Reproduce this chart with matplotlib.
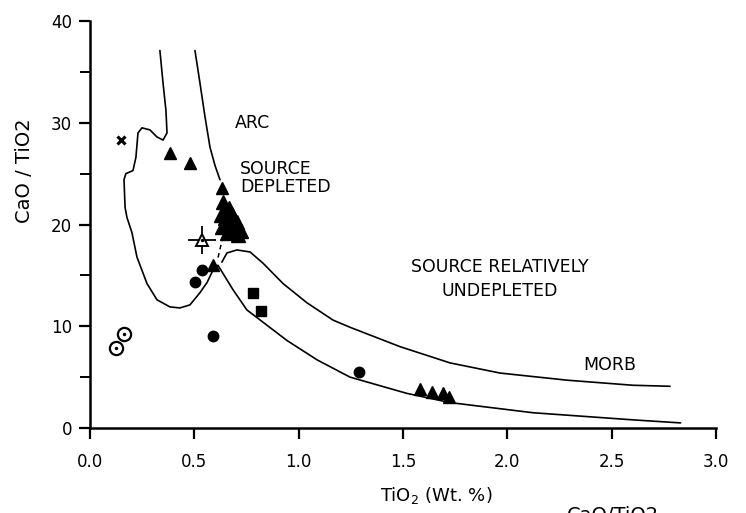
import matplotlib
matplotlib.use('Agg')
import matplotlib.pyplot as plt
import numpy as np

# field boundaries (TiO2 wt.%, CaO/TiO2)
arc_left_x = [0.335, 0.350, 0.364, 0.369, 0.350, 0.321, 0.287, 0.249, 0.230, 0.220,
              0.206, 0.172, 0.163, 0.168, 0.177, 0.201, 0.225, 0.273, 0.321, 0.383,
              0.431, 0.479, 0.527, 0.561, 0.589, 0.613, 0.637, 0.685, 0.752, 0.829,
              0.944, 1.088, 1.246, 1.519, 1.725, 2.123, 2.602, 2.830]
arc_left_y = [37.1, 33.9, 31.2, 29.0, 28.3, 28.6, 29.3, 29.5, 29.0, 26.6,
              25.3, 25.0, 24.4, 21.7, 20.7, 19.2, 16.8, 14.2, 12.6, 11.9,
              11.8, 12.1, 13.3, 14.3, 15.5, 16.0, 15.2, 13.6, 11.6, 10.4,
              8.6, 6.7, 5.0, 3.4, 2.5, 1.5, 0.8, 0.5]

arc_right_x = [0.503, 0.527, 0.551, 0.575, 0.599, 0.623]
arc_right_y = [37.1, 33.9, 30.6, 27.6, 25.8, 24.4]

morb_top_x = [0.632, 0.656, 0.704, 0.767, 0.829, 0.925, 1.040, 1.165, 1.246, 1.485,
              1.725, 1.965, 2.286, 2.602, 2.780]
morb_top_y = [16.3, 17.2, 17.5, 17.3, 16.2, 14.2, 12.3, 10.6, 9.9, 8.0,
              6.4, 5.4, 4.7, 4.2, 4.1]

link_x = [0.637, 0.613]
link_y = [18.8, 16.7]

# samples
tri_x = [0.383, 0.479, 0.632, 0.589, 1.580, 1.640, 1.690, 1.720]
tri_y = [27.0, 26.0, 23.6, 16.0, 3.8, 3.5, 3.4, 3.0]

cluster_x = [0.637, 0.652, 0.628, 0.680, 0.661, 0.704, 0.632, 0.680, 0.724, 0.656,
             0.709, 0.645, 0.690, 0.715, 0.668]
cluster_y = [22.2, 21.4, 20.9, 21.0, 20.2, 20.2, 19.8, 19.4, 19.4, 19.2,
             19.0, 20.6, 19.9, 19.6, 21.6]

dot_x = [0.537, 0.503, 0.589, 1.289]
dot_y = [15.5, 14.3, 9.0, 5.5]

square_x = [0.781, 0.819]
square_y = [13.3, 11.5]

ring_x = [0.163, 0.125]
ring_y = [9.2, 7.9]

cross_x = [0.149]
cross_y = [28.3]

star_x = [0.537]
star_y = [18.5]

x_ticks = [0.0, 0.5, 1.0, 1.5, 2.0, 2.5, 3.0]
y_ticks = [0, 10, 20, 30, 40]

plt.rcParams['font.family'] = 'DejaVu Sans'

fig = plt.figure(figsize=(7.46, 5.13), dpi=100)
ax = fig.add_axes([90 / 746, 85 / 513, 626 / 746, 407 / 513])

line_kw = dict(color='black', lw=1.2, solid_capstyle='round', solid_joinstyle='round')
ax.plot(arc_left_x, arc_left_y, **line_kw)
ax.plot(arc_right_x, arc_right_y, **line_kw)
ax.plot(morb_top_x, morb_top_y, **line_kw)
ax.plot(link_x, link_y, color='black', lw=1.1, ls=(0, (3, 2.5)))

ax.plot(cluster_x, cluster_y, ls='none', marker='^', ms=10, color='black')
ax.plot(tri_x, tri_y, ls='none', marker='^', ms=9, color='black')
ax.plot(dot_x, dot_y, ls='none', marker='o', ms=7.5, color='black')
ax.plot(square_x, square_y, ls='none', marker='s', ms=7, color='black')
ax.plot(ring_x, ring_y, ls='none', marker='o', ms=9.5, mfc='white', mec='black', mew=1.6)
ax.plot(ring_x, ring_y, ls='none', marker='o', ms=1.5, color='black')
ax.plot(cross_x, cross_y, ls='none', marker='x', ms=5.5, mew=2.2, color='black')

# open triangle with crosshair
ax.plot(star_x, star_y, ls='none', marker='+', ms=20, mew=1.3, color='black')
ax.plot(star_x, star_y, ls='none', marker='^', ms=9, mfc='white', mec='black', mew=1.4)
ax.plot(star_x, star_y, ls='none', marker='o', ms=1.5, color='black')

text_kw = dict(fontsize=12.5, color='black')
ax.text(0.695, 30.0, 'ARC', ha='left', va='center', **text_kw)
ax.text(0.719, 24.6, 'SOURCE\nDEPLETED', ha='left', va='center', linespacing=1.0, **text_kw)
ax.text(1.965, 14.65, 'SOURCE RELATIVELY\nUNDEPLETED', ha='center', va='center',
        linespacing=1.45, **text_kw)
ax.text(2.49, 6.2, 'MORB', ha='center', va='center', **text_kw)

ax.set_xlim(0, 3.0)
ax.set_ylim(0, 40)
ax.set_xticks(x_ticks)
ax.set_xticklabels([f'{t:.1f}' for t in x_ticks])
ax.set_yticks(y_ticks)
ax.set_yticks([5, 15, 25, 35], minor=True)

for side in ['top', 'right']:
    ax.spines[side].set_visible(False)
for side in ['left', 'bottom']:
    ax.spines[side].set_linewidth(1.8)

ax.tick_params(axis='both', which='major', direction='out', length=8, width=1.6,
               labelsize=12, pad=5)
ax.tick_params(axis='y', which='minor', direction='out', length=7, width=1.4)
ax.tick_params(axis='x', pad=10)

fig.text(25 / 746, 1 - 171 / 513, 'CaO / TiO2', rotation=90, ha='center', va='center',
         fontsize=14)
fig.text(436 / 746, 1 - 495 / 513, 'TiO$_2$ (Wt. %)', ha='center', va='center',
         fontsize=13)
# caption line running off the lower edge
fig.text(567 / 746, 1 - 506 / 513, 'CaO/TiO2', ha='left', va='top', fontsize=14)

fig.savefig('out.png', dpi=100)
